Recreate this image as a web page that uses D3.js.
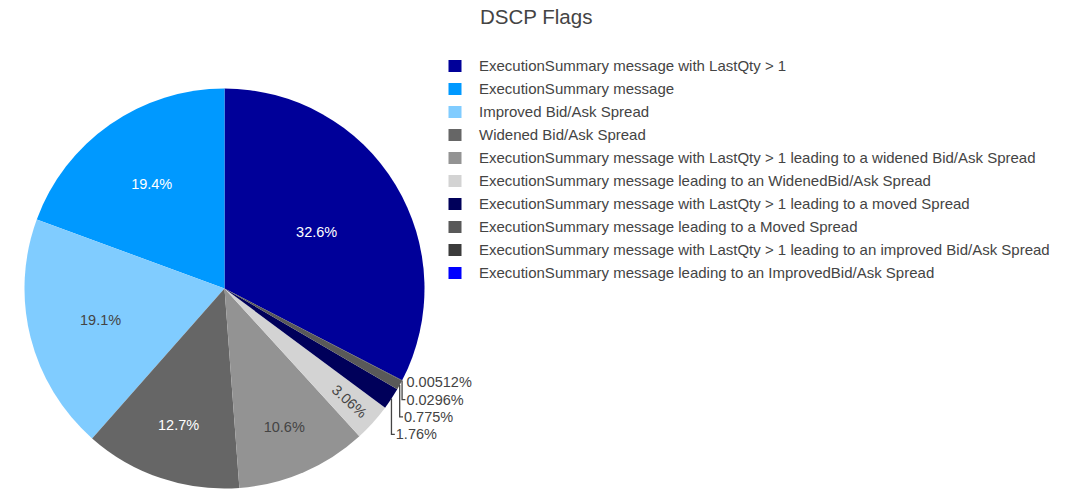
<!DOCTYPE html>
<html>
<head>
<meta charset="utf-8">
<script src="https://cdn.jsdelivr.net/npm/d3@7"></script>
<style>
body { margin: 0; background: #fff; }
text { font-family: "Liberation Sans", Arial, sans-serif; }
</style>
</head>
<body>
<div id="vis"></div>
<script>
// chart data
var title = "DSCP Flags";
var categories = [
    "ExecutionSummary message with LastQty > 1",
    "ExecutionSummary message",
    "Improved Bid/Ask Spread",
    "Widened Bid/Ask Spread",
    "ExecutionSummary message with LastQty > 1 leading to a widened Bid/Ask Spread",
    "ExecutionSummary message leading to an WidenedBid/Ask Spread",
    "ExecutionSummary message with LastQty > 1 leading to a moved Spread",
    "ExecutionSummary message leading to a Moved Spread",
    "ExecutionSummary message with LastQty > 1 leading to an improved Bid/Ask Spread",
    "ExecutionSummary message leading to an ImprovedBid/Ask Spread"
];
var values = [32.6, 19.4, 19.1, 12.7, 10.6, 3.06, 1.76, 0.775, 0.0296, 0.00512];
var colors = ["#000099", "#0099ff", "#80ccff", "#666666", "#939393",
              "#d3d3d3", "#00005a", "#595959", "#3b3b3b", "#0000ff"];

var width = 1081, height = 490;
var cx = 224.5, cy = 288.5, radius = 200;
var fontSize = 14.5;
var legendFont = 15;
var textPad = 3;
var textColor = "#444";

var svg = d3.select("#vis")
    .append("svg")
    .attr("width", width)
    .attr("height", height);

var total = d3.sum(values);
var fmt = d3.format(".3~r");

// first slice ends at 12 o'clock, the rest run counterclockwise
var startA = 2 * Math.PI * values[0] / total;
var pie = d3.pie().sort(null).startAngle(startA).endAngle(startA - 2 * Math.PI);
var arcs = pie(values);
var arc = d3.arc().innerRadius(0).outerRadius(radius);

var g = svg.append("g")
    .attr("transform", "translate(" + cx + "," + cy + ")");

g.selectAll("path")
    .data(arcs)
    .enter()
    .append("path")
    .attr("d", arc)
    .attr("fill", function(d, i) { return colors[i]; });

function isLight(c) {
    var rgb = d3.rgb(c);
    return (rgb.r * 299 + rgb.g * 587 + rgb.b * 114) / 1000 >= 128;
}

function textWidth(str, size) {
    var t = svg.append("text").attr("font-size", size).text(str);
    var w = t.node().getComputedTextLength();
    t.remove();
    return w;
}

function maxHalfSize(a, halfAngle, r) {
    var q = a + 1 / (2 * Math.tan(halfAngle));
    return r * Math.min(1 / (Math.sqrt(q * q + 0.5) + q), 1 / (Math.sqrt(a * a + 0.5) + a));
}

function uprightDeg(deg) {
    while (deg > 90) deg -= 180;
    while (deg <= -90) deg += 180;
    return deg;
}

var outside = [];

arcs.forEach(function(d, i) {
    var a0 = Math.min(d.startAngle, d.endAngle), a1 = Math.max(d.startAngle, d.endAngle);
    var mid = (a0 + a1) / 2, half = (a1 - a0) / 2;
    var label = fmt(values[i] / total * 100) + "%";
    var w = textWidth(label, fontSize), h = fontSize * 1.2;
    var sx = Math.sin(mid), sy = -Math.cos(mid);

    // horizontal inside text
    var rIns = Math.min(1 / (1 + 1 / Math.sin(half)), 0.5);
    var diam = Math.sqrt(w * w + h * h);
    var best = null;
    if (rIns * radius * 2 / diam >= 1) {
        best = {r: (1 - rIns) * radius, rot: 0};
    } else {
        var rr = radius - 2 * textPad;
        var aR = w / h, sR = maxHalfSize(aR, half, rr);
        var rad = {scale: sR * 2 / h, r: (Math.cos(sR / rr) - aR * sR / rr) * radius,
                   rot: uprightDeg(mid * 180 / Math.PI - 90)};
        var aT = h / w, sT = maxHalfSize(aT, half, rr);
        var tan = {scale: sT * 2 / w, r: (Math.cos(sT / rr) - aT * sT / rr) * radius,
                   rot: uprightDeg(mid * 180 / Math.PI)};
        var pick = rad.scale >= tan.scale ? rad : tan;
        if (pick.scale >= 1) best = pick;
    }

    if (best) {
        var x = sx * best.r, y = sy * best.r;
        g.append("text")
            .attr("transform", "translate(" + x + "," + y + ") rotate(" + best.rot + ")")
            .attr("text-anchor", "middle")
            .attr("dy", "0.35em")
            .attr("font-size", fontSize)
            .attr("fill", isLight(colors[i]) ? textColor : "#fff")
            .text(label);
    } else {
        var px = sx * radius, py = sy * radius;
        var dx = w / 2 * (px < 0 ? -1 : 1);
        var dy = h / 2 * (py < 0 ? -1 : 1);
        outside.push({
            label: label, px: px, py: py, w: w, h: h,
            x: px + dx + Math.abs(dy) / 2 * (dx > 0 ? 1 : -1),
            y0: py + dy / (1 + px * px / (py * py)),
            right: px >= 0
        });
    }
});

// push overlapping outside labels apart
[true, false].forEach(function(side) {
    var list = outside.filter(function(o) { return o.right === side; })
        .sort(function(a, b) { return a.y0 - b.y0; });
    var prev = -Infinity;
    list.forEach(function(o) {
        o.y = Math.max(o.y0, prev + o.h);
        prev = o.y;
    });
});

outside.forEach(function(o) {
    var left = o.x - o.w / 2;
    if (Math.abs(o.y - o.y0) > 0.5) {
        var endX = o.right ? left - 1 : o.x + o.w / 2 + 1;
        g.append("path")
            .attr("d", "M" + o.px + "," + o.py + "V" + o.y + "H" + endX)
            .attr("fill", "none")
            .attr("stroke", textColor)
            .attr("stroke-width", 1.3);
    }
    g.append("text")
        .attr("x", o.x)
        .attr("y", o.y)
        .attr("dy", "0.35em")
        .attr("text-anchor", "middle")
        .attr("font-size", fontSize)
        .attr("fill", textColor)
        .text(o.label);
});

// title
svg.append("text")
    .attr("x", 480)
    .attr("y", 24)
    .attr("font-size", 20.5)
    .attr("fill", textColor)
    .text(title);

// legend
var legendY = d3.scalePoint()
    .domain(categories)
    .range([66, 66 + 23 * (categories.length - 1)]);

var legend = svg.append("g").attr("class", "legend");

legend.selectAll("rect")
    .data(categories)
    .enter()
    .append("rect")
    .attr("x", 448.5)
    .attr("y", function(d) { return legendY(d) - 6; })
    .attr("width", 13)
    .attr("height", 12)
    .attr("fill", function(d, i) { return colors[i]; });

legend.selectAll("text")
    .data(categories)
    .enter()
    .append("text")
    .attr("x", 479)
    .attr("y", function(d) { return legendY(d) + 4.6; })
    .attr("font-size", legendFont)
    .attr("fill", textColor)
    .text(function(d) { return d; });
</script>
</body>
</html>
